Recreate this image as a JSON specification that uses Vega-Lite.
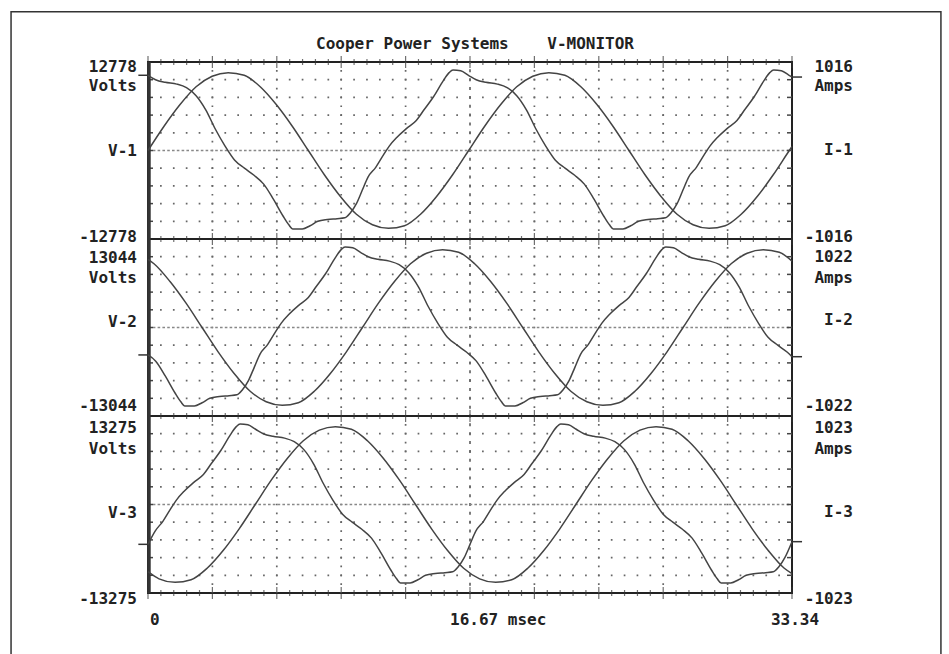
{
  "$schema": "https://vega.github.io/schema/vega-lite/v6.json",
  "width": 644,
  "height": 531,
  "autosize": {"type": "none"},
  "padding": {"left": 148, "top": 62, "right": 157, "bottom": 61},
  "background": "white",
  "config": {
    "view": {"stroke": "#222", "strokeWidth": 2},
    "text": {"font": "DejaVu Sans Mono", "fontSize": 16, "fontWeight": "bold", "fill": "#222"},
    "line": {"stroke": "#444", "strokeWidth": 1.5}
  },
  "resolve": {"scale": {"y": "independent"}},
  "datasets": {
    "minor": [{"t":0},{"t":0.6668},{"t":1.3336},{"t":2.0004},{"t":2.6672},{"t":3.334},{"t":4.0008},{"t":4.6676},{"t":5.3344},{"t":6.0012},{"t":6.668},{"t":7.3348},{"t":8.0016},{"t":8.6684},{"t":9.3352},{"t":10.002},{"t":10.6688},{"t":11.3356},{"t":12.0024},{"t":12.6692},{"t":13.336},{"t":14.0028},{"t":14.6696},{"t":15.3364},{"t":16.0032},{"t":16.67},{"t":17.3368},{"t":18.0036},{"t":18.6704},{"t":19.3372},{"t":20.004},{"t":20.6708},{"t":21.3376},{"t":22.0044},{"t":22.6712},{"t":23.338},{"t":24.0048},{"t":24.6716},{"t":25.3384},{"t":26.0052},{"t":26.672},{"t":27.3388},{"t":28.0056},{"t":28.6724},{"t":29.3392},{"t":30.006},{"t":30.6728},{"t":31.3396},{"t":32.0064},{"t":32.6732},{"t":33.34}],
    "cols": [{"t":0},{"t":3.334},{"t":6.668},{"t":10.002},{"t":13.336},{"t":16.67},{"t":20.004},{"t":23.338},{"t":26.672},{"t":30.006},{"t":33.34}],
    "rows": [{"d":1},{"d":2},{"d":3},{"d":4},{"d":5},{"d":6},{"d":7},{"d":8},{"d":9},{"d":11},{"d":12},{"d":13},{"d":14},{"d":15},{"d":16},{"d":17},{"d":18},{"d":19},{"d":21},{"d":22},{"d":23},{"d":24},{"d":25},{"d":26},{"d":27},{"d":28},{"d":29}],
    "edges": [{"d":10},{"d":20}],
    "leftLabels": [
      {"label":"12778","level":29.72},{"label":"Volts","level":28.64},{"label":"V-1\u00a0","level":24.97},{"label":"-12778","level":20.11},
      {"label":"13044","level":18.95},{"label":"Volts","level":17.8},{"label":"V-2\u00a0","level":15.31},{"label":"-13044","level":10.56},
      {"label":"13275","level":9.32},{"label":"Volts","level":8.14},{"label":"V-3\u00a0","level":4.52},{"label":"-13275","level":-0.34}
    ],
    "rightLabels": [
      {"label":"1016","level":29.72},{"label":"Amps","level":28.64},{"label":"I-1\u00a0","level":25.03},{"label":"-1016","level":20.11},
      {"label":"1022","level":18.98},{"label":"Amps","level":17.77},{"label":"I-2\u00a0","level":15.42},{"label":"-1022","level":10.56},
      {"label":"1023","level":9.32},{"label":"Amps","level":8.14},{"label":"I-3\u00a0","level":4.58},{"label":"-1023","level":-0.34}
    ],
    "v1": [{"t":0,"v":10861},{"t":0.39,"v":10222},{"t":0.89,"v":9839},{"t":1.49,"v":9584},{"t":1.99,"v":9072},{"t":2.49,"v":7922},{"t":2.99,"v":5878},{"t":3.49,"v":3067},{"t":3.99,"v":639},{"t":4.49,"v":-1406},{"t":4.99,"v":-2556},{"t":5.49,"v":-3578},{"t":5.99,"v":-4856},{"t":6.49,"v":-7028},{"t":6.99,"v":-9456},{"t":7.29,"v":-10734},{"t":7.49,"v":-11321},{"t":7.99,"v":-11321},{"t":8.39,"v":-10861},{"t":8.79,"v":-10222},{"t":9.29,"v":-9967},{"t":9.79,"v":-9839},{"t":10.19,"v":-9711},{"t":10.49,"v":-8945},{"t":10.79,"v":-7667},{"t":11.09,"v":-5750},{"t":11.39,"v":-3833},{"t":11.79,"v":-2428},{"t":12.19,"v":-639},{"t":12.49,"v":639},{"t":12.89,"v":1917},{"t":13.39,"v":3195},{"t":13.89,"v":4345},{"t":14.29,"v":5878},{"t":14.79,"v":7795},{"t":15.29,"v":10095},{"t":15.59,"v":11245},{"t":15.79,"v":11628},{"t":16.19,"v":11500},{"t":16.59,"v":10861},{"t":16.99,"v":10222},{"t":17.49,"v":9839},{"t":18.09,"v":9584},{"t":18.59,"v":9072},{"t":19.09,"v":7922},{"t":19.59,"v":5878},{"t":20.09,"v":3067},{"t":20.59,"v":639},{"t":21.09,"v":-1406},{"t":21.59,"v":-2556},{"t":22.09,"v":-3578},{"t":22.59,"v":-4856},{"t":23.09,"v":-7028},{"t":23.59,"v":-9456},{"t":23.89,"v":-10734},{"t":24.09,"v":-11321},{"t":24.59,"v":-11321},{"t":24.99,"v":-10861},{"t":25.39,"v":-10222},{"t":25.89,"v":-9967},{"t":26.39,"v":-9839},{"t":26.79,"v":-9711},{"t":27.09,"v":-8945},{"t":27.39,"v":-7667},{"t":27.69,"v":-5750},{"t":27.99,"v":-3833},{"t":28.39,"v":-2428},{"t":28.79,"v":-639},{"t":29.09,"v":639},{"t":29.49,"v":1917},{"t":29.99,"v":3195},{"t":30.49,"v":4345},{"t":30.89,"v":5878},{"t":31.39,"v":7795},{"t":31.89,"v":10095},{"t":32.19,"v":11245},{"t":32.39,"v":11628},{"t":32.79,"v":11500},{"t":33.19,"v":10861},{"t":33.34,"v":10606}],
    "i1": [{"t":0,"i":0},{"t":0.83,"i":279},{"t":1.66,"i":528},{"t":2.49,"i":732},{"t":3.32,"i":853},{"t":4.15,"i":894},{"t":4.98,"i":864},{"t":5.81,"i":732},{"t":6.64,"i":528},{"t":7.47,"i":279},{"t":8.3,"i":0},{"t":9.13,"i":-279},{"t":9.96,"i":-528},{"t":10.79,"i":-732},{"t":11.62,"i":-853},{"t":12.45,"i":-894},{"t":13.28,"i":-864},{"t":14.11,"i":-732},{"t":14.94,"i":-528},{"t":15.77,"i":-279},{"t":16.6,"i":0},{"t":17.43,"i":279},{"t":18.26,"i":528},{"t":19.09,"i":732},{"t":19.92,"i":853},{"t":20.75,"i":894},{"t":21.58,"i":864},{"t":22.41,"i":732},{"t":23.24,"i":528},{"t":24.07,"i":279},{"t":24.9,"i":0},{"t":25.73,"i":-279},{"t":26.56,"i":-528},{"t":27.39,"i":-732},{"t":28.22,"i":-853},{"t":29.05,"i":-894},{"t":29.88,"i":-864},{"t":30.71,"i":-732},{"t":31.54,"i":-528},{"t":32.37,"i":-279},{"t":33.2,"i":0},{"t":33.34,"i":46}],
    "v2": [{"t":0,"v":-4044},{"t":0.4,"v":-4957},{"t":0.9,"v":-7174},{"t":1.4,"v":-9653},{"t":1.7,"v":-10957},{"t":1.9,"v":-11557},{"t":2.4,"v":-11557},{"t":2.8,"v":-11087},{"t":3.2,"v":-10435},{"t":3.7,"v":-10174},{"t":4.2,"v":-10044},{"t":4.6,"v":-9913},{"t":4.9,"v":-9131},{"t":5.2,"v":-7826},{"t":5.5,"v":-5870},{"t":5.8,"v":-3913},{"t":6.2,"v":-2478},{"t":6.6,"v":-652},{"t":6.9,"v":652},{"t":7.3,"v":1957},{"t":7.8,"v":3261},{"t":8.3,"v":4435},{"t":8.7,"v":6000},{"t":9.2,"v":7957},{"t":9.7,"v":10305},{"t":10.0,"v":11479},{"t":10.2,"v":11870},{"t":10.6,"v":11740},{"t":11.0,"v":11087},{"t":11.4,"v":10435},{"t":11.9,"v":10044},{"t":12.5,"v":9783},{"t":13.0,"v":9261},{"t":13.5,"v":8087},{"t":14.0,"v":6000},{"t":14.5,"v":3131},{"t":15.0,"v":652},{"t":15.5,"v":-1435},{"t":16.0,"v":-2609},{"t":16.5,"v":-3652},{"t":17.0,"v":-4957},{"t":17.5,"v":-7174},{"t":18.0,"v":-9653},{"t":18.3,"v":-10957},{"t":18.5,"v":-11557},{"t":19.0,"v":-11557},{"t":19.4,"v":-11087},{"t":19.8,"v":-10435},{"t":20.3,"v":-10174},{"t":20.8,"v":-10044},{"t":21.2,"v":-9913},{"t":21.5,"v":-9131},{"t":21.8,"v":-7826},{"t":22.1,"v":-5870},{"t":22.4,"v":-3913},{"t":22.8,"v":-2478},{"t":23.2,"v":-652},{"t":23.5,"v":652},{"t":23.9,"v":1957},{"t":24.4,"v":3261},{"t":24.9,"v":4435},{"t":25.3,"v":6000},{"t":25.8,"v":7957},{"t":26.3,"v":10305},{"t":26.6,"v":11479},{"t":26.8,"v":11870},{"t":27.2,"v":11740},{"t":27.6,"v":11087},{"t":28.0,"v":10435},{"t":28.5,"v":10044},{"t":29.1,"v":9783},{"t":29.6,"v":9261},{"t":30.1,"v":8087},{"t":30.6,"v":6000},{"t":31.1,"v":3131},{"t":31.6,"v":652},{"t":32.1,"v":-1435},{"t":32.6,"v":-2609},{"t":33.1,"v":-3652},{"t":33.34,"v":-4305}],
    "i2": [{"t":0,"i":787},{"t":0.31,"i":736},{"t":1.14,"i":531},{"t":1.97,"i":281},{"t":2.8,"i":0},{"t":3.63,"i":-281},{"t":4.46,"i":-531},{"t":5.29,"i":-736},{"t":6.12,"i":-858},{"t":6.95,"i":-899},{"t":7.78,"i":-869},{"t":8.61,"i":-736},{"t":9.44,"i":-531},{"t":10.27,"i":-281},{"t":11.1,"i":0},{"t":11.93,"i":281},{"t":12.76,"i":531},{"t":13.59,"i":736},{"t":14.42,"i":858},{"t":15.25,"i":899},{"t":16.08,"i":869},{"t":16.91,"i":736},{"t":17.74,"i":531},{"t":18.57,"i":281},{"t":19.4,"i":0},{"t":20.23,"i":-281},{"t":21.06,"i":-531},{"t":21.89,"i":-736},{"t":22.72,"i":-858},{"t":23.55,"i":-899},{"t":24.38,"i":-869},{"t":25.21,"i":-736},{"t":26.04,"i":-531},{"t":26.87,"i":-281},{"t":27.7,"i":0},{"t":28.53,"i":281},{"t":29.36,"i":531},{"t":30.19,"i":736},{"t":31.02,"i":858},{"t":31.85,"i":899},{"t":32.68,"i":869},{"t":33.34,"i":767}],
    "v3": [{"t":0,"v":-5974},{"t":0.37,"v":-3983},{"t":0.77,"v":-2522},{"t":1.17,"v":-664},{"t":1.47,"v":664},{"t":1.87,"v":1991},{"t":2.37,"v":3319},{"t":2.87,"v":4514},{"t":3.27,"v":6107},{"t":3.77,"v":8098},{"t":4.27,"v":10487},{"t":4.57,"v":11682},{"t":4.77,"v":12080},{"t":5.17,"v":11948},{"t":5.57,"v":11284},{"t":5.97,"v":10620},{"t":6.47,"v":10222},{"t":7.07,"v":9956},{"t":7.57,"v":9425},{"t":8.07,"v":8231},{"t":8.57,"v":6107},{"t":9.07,"v":3186},{"t":9.57,"v":664},{"t":10.07,"v":-1460},{"t":10.57,"v":-2655},{"t":11.07,"v":-3717},{"t":11.57,"v":-5045},{"t":12.07,"v":-7301},{"t":12.57,"v":-9824},{"t":12.87,"v":-11151},{"t":13.07,"v":-11762},{"t":13.57,"v":-11762},{"t":13.97,"v":-11284},{"t":14.37,"v":-10620},{"t":14.87,"v":-10355},{"t":15.37,"v":-10222},{"t":15.77,"v":-10089},{"t":16.07,"v":-9293},{"t":16.37,"v":-7965},{"t":16.67,"v":-5974},{"t":16.97,"v":-3983},{"t":17.37,"v":-2522},{"t":17.77,"v":-664},{"t":18.07,"v":664},{"t":18.47,"v":1991},{"t":18.97,"v":3319},{"t":19.47,"v":4514},{"t":19.87,"v":6107},{"t":20.37,"v":8098},{"t":20.87,"v":10487},{"t":21.17,"v":11682},{"t":21.37,"v":12080},{"t":21.77,"v":11948},{"t":22.17,"v":11284},{"t":22.57,"v":10620},{"t":23.07,"v":10222},{"t":23.67,"v":9956},{"t":24.17,"v":9425},{"t":24.67,"v":8231},{"t":25.17,"v":6107},{"t":25.67,"v":3186},{"t":26.17,"v":664},{"t":26.67,"v":-1460},{"t":27.17,"v":-2655},{"t":27.67,"v":-3717},{"t":28.17,"v":-5045},{"t":28.67,"v":-7301},{"t":29.17,"v":-9824},{"t":29.47,"v":-11151},{"t":29.67,"v":-11762},{"t":30.17,"v":-11762},{"t":30.57,"v":-11284},{"t":30.97,"v":-10620},{"t":31.47,"v":-10355},{"t":31.97,"v":-10222},{"t":32.37,"v":-10089},{"t":32.67,"v":-9293},{"t":32.97,"v":-7965},{"t":33.34,"v":-5576}],
    "i3": [{"t":0,"i":-777},{"t":0.57,"i":-859},{"t":1.4,"i":-900},{"t":2.23,"i":-870},{"t":3.06,"i":-737},{"t":3.89,"i":-532},{"t":4.72,"i":-281},{"t":5.55,"i":0},{"t":6.38,"i":281},{"t":7.21,"i":532},{"t":8.04,"i":737},{"t":8.87,"i":859},{"t":9.7,"i":900},{"t":10.53,"i":870},{"t":11.36,"i":737},{"t":12.19,"i":532},{"t":13.02,"i":281},{"t":13.85,"i":0},{"t":14.68,"i":-281},{"t":15.51,"i":-532},{"t":16.34,"i":-737},{"t":17.17,"i":-859},{"t":18.0,"i":-900},{"t":18.83,"i":-870},{"t":19.66,"i":-737},{"t":20.49,"i":-532},{"t":21.32,"i":-281},{"t":22.15,"i":0},{"t":22.98,"i":281},{"t":23.81,"i":532},{"t":24.64,"i":737},{"t":25.47,"i":859},{"t":26.3,"i":900},{"t":27.13,"i":870},{"t":27.96,"i":737},{"t":28.79,"i":532},{"t":29.62,"i":281},{"t":30.45,"i":0},{"t":31.28,"i":-281},{"t":32.11,"i":-532},{"t":32.94,"i":-737},{"t":33.34,"i":-798}]
  },
  "layer": [
    {
      "data": {"values": [{}]},
      "mark": {"type": "rect", "fill": "transparent", "stroke": "#333", "strokeWidth": 1.5},
      "encoding": {
        "x": {"datum": -7.09, "type": "quantitative", "scale": {"domain": [0, 33.34], "nice": false, "zero": false}, "axis": null},
        "x2": {"datum": 41.05},
        "y": {"datum": 32.84, "type": "quantitative", "scale": {"domain": [0, 30], "nice": false, "zero": false}, "axis": null},
        "y2": {"datum": -5}
      }
    },
    {
      "data": {"values": [{"label": "Cooper Power Systems\u00a0\u00a0\u00a0\u00a0V-MONITOR"}]},
      "mark": {"type": "text", "align": "center", "baseline": "middle", "dx": 5},
      "encoding": {
        "x": {"datum": 16.67, "type": "quantitative", "scale": {"domain": [0, 33.34], "nice": false, "zero": false}, "axis": null},
        "y": {"datum": 31.02, "type": "quantitative", "scale": {"domain": [0, 30], "nice": false, "zero": false}, "axis": null},
        "text": {"field": "label"}
      }
    },
    {
      "data": {"name": "cols"},
      "transform": [{"filter": "datum.t > 0.1 && datum.t < 33.2 && abs(datum.t - 16.67) > 0.1"}],
      "mark": {"type": "rule", "stroke": "#666", "strokeWidth": 1.7, "strokeDash": [1.7, 7.15], "strokeDashOffset": 0.85},
      "encoding": {
        "x": {"field": "t", "type": "quantitative", "scale": {"domain": [0, 33.34], "nice": false, "zero": false}, "axis": null},
        "y": {"datum": 0, "type": "quantitative", "scale": {"domain": [0, 30], "nice": false, "zero": false}, "axis": null},
        "y2": {"datum": 30}
      }
    },
    {
      "data": {"name": "cols"},
      "transform": [{"filter": "abs(datum.t - 16.67) < 0.1"}],
      "mark": {"type": "rule", "stroke": "#666", "strokeWidth": 1.7, "strokeDash": [3, 5.85], "strokeDashOffset": 1.5},
      "encoding": {
        "x": {"field": "t", "type": "quantitative", "scale": {"domain": [0, 33.34], "nice": false, "zero": false}, "axis": null},
        "y": {"datum": 0, "type": "quantitative", "scale": {"domain": [0, 30], "nice": false, "zero": false}, "axis": null},
        "y2": {"datum": 30}
      }
    },
    {
      "data": {"name": "rows"},
      "transform": [{"filter": "datum.d % 5 != 0"}],
      "mark": {"type": "rule", "stroke": "#666", "strokeWidth": 1.7, "strokeDash": [1.7, 11.18], "strokeDashOffset": 0.85},
      "encoding": {
        "x": {"datum": 0, "type": "quantitative", "scale": {"domain": [0, 33.34], "nice": false, "zero": false}, "axis": null},
        "x2": {"datum": 33.34},
        "y": {"field": "d", "type": "quantitative", "scale": {"domain": [0, 30], "nice": false, "zero": false}, "axis": null}
      }
    },
    {
      "data": {"name": "rows"},
      "transform": [{"filter": "datum.d % 5 == 0"}],
      "mark": {"type": "rule", "stroke": "#888", "strokeWidth": 1.3, "strokeDash": [2.6, 2.2]},
      "encoding": {
        "x": {"datum": 0, "type": "quantitative", "scale": {"domain": [0, 33.34], "nice": false, "zero": false}, "axis": null},
        "x2": {"datum": 33.34},
        "y": {"field": "d", "type": "quantitative", "scale": {"domain": [0, 30], "nice": false, "zero": false}, "axis": null}
      }
    },
    {
      "data": {"name": "rows"},
      "mark": {"type": "rule", "stroke": "#444", "strokeWidth": 1.5},
      "encoding": {
        "x": {"datum": 0, "type": "quantitative", "scale": {"domain": [0, 33.34], "nice": false, "zero": false}, "axis": null},
        "x2": {"datum": 0.26},
        "y": {"field": "d", "type": "quantitative", "scale": {"domain": [0, 30], "nice": false, "zero": false}, "axis": null}
      }
    },
    {
      "data": {"name": "rows"},
      "mark": {"type": "rule", "stroke": "#444", "strokeWidth": 1.5},
      "encoding": {
        "x": {"datum": 33.08, "type": "quantitative", "scale": {"domain": [0, 33.34], "nice": false, "zero": false}, "axis": null},
        "x2": {"datum": 33.34},
        "y": {"field": "d", "type": "quantitative", "scale": {"domain": [0, 30], "nice": false, "zero": false}, "axis": null}
      }
    },
    {
      "data": {"name": "edges"},
      "mark": {"type": "rule", "stroke": "#222", "strokeWidth": 2},
      "encoding": {
        "x": {"datum": 0, "type": "quantitative", "scale": {"domain": [0, 33.34], "nice": false, "zero": false}, "axis": null},
        "x2": {"datum": 33.34},
        "y": {"field": "d", "type": "quantitative", "scale": {"domain": [0, 30], "nice": false, "zero": false}, "axis": null}
      }
    },
    {
      "data": {"values": [{}]},
      "mark": {"type": "rule", "stroke": "#333", "strokeWidth": 3.5},
      "encoding": {
        "x": {"datum": 0.05, "type": "quantitative", "scale": {"domain": [0, 33.34], "nice": false, "zero": false}, "axis": null},
        "y": {"datum": 0, "type": "quantitative", "scale": {"domain": [0, 30], "nice": false, "zero": false}, "axis": null},
        "y2": {"datum": 30}
      }
    },
    {
      "data": {"name": "minor"},
      "mark": {"type": "tick", "orient": "vertical", "color": "#333", "thickness": 1.2},
      "encoding": {
        "x": {"field": "t", "type": "quantitative", "scale": {"domain": [0, 33.34], "nice": false, "zero": false}, "axis": null},
        "y": {"datum": 0, "type": "quantitative", "scale": {"domain": [0, 30], "nice": false, "zero": false}, "axis": null},
        "size": {"condition": {"test": "abs(datum.t / 3.334 - round(datum.t / 3.334)) < 0.01", "value": 12}, "value": 6}
      }
    },
    {
      "data": {"name": "minor"},
      "mark": {"type": "tick", "orient": "vertical", "color": "#333", "thickness": 1.2},
      "encoding": {
        "x": {"field": "t", "type": "quantitative", "scale": {"domain": [0, 33.34], "nice": false, "zero": false}, "axis": null},
        "y": {"datum": 10, "type": "quantitative", "scale": {"domain": [0, 30], "nice": false, "zero": false}, "axis": null},
        "size": {"condition": {"test": "abs(datum.t / 3.334 - round(datum.t / 3.334)) < 0.01", "value": 12}, "value": 6}
      }
    },
    {
      "data": {"name": "minor"},
      "mark": {"type": "tick", "orient": "vertical", "color": "#333", "thickness": 1.2},
      "encoding": {
        "x": {"field": "t", "type": "quantitative", "scale": {"domain": [0, 33.34], "nice": false, "zero": false}, "axis": null},
        "y": {"datum": 20, "type": "quantitative", "scale": {"domain": [0, 30], "nice": false, "zero": false}, "axis": null},
        "size": {"condition": {"test": "abs(datum.t / 3.334 - round(datum.t / 3.334)) < 0.01", "value": 12}, "value": 6}
      }
    },
    {
      "data": {"name": "minor"},
      "mark": {"type": "tick", "orient": "vertical", "color": "#333", "thickness": 1.2},
      "encoding": {
        "x": {"field": "t", "type": "quantitative", "scale": {"domain": [0, 33.34], "nice": false, "zero": false}, "axis": null},
        "y": {"datum": 30, "type": "quantitative", "scale": {"domain": [0, 30], "nice": false, "zero": false}, "axis": null},
        "size": {"condition": {"test": "abs(datum.t / 3.334 - round(datum.t / 3.334)) < 0.01", "value": 12}, "value": 6}
      }
    },
    {
      "data": {"name": "v1"},
      "mark": {"type": "line", "interpolate": "monotone"},
      "encoding": {
        "x": {"field": "t", "type": "quantitative", "title": "msec", "scale": {"domain": [0, 33.34], "nice": false, "zero": false}, "axis": null},
        "y": {"field": "v", "type": "quantitative", "title": "V-1 (Volts)", "scale": {"domain": [-63890, 12778], "nice": false, "zero": false}, "axis": null}
      }
    },
    {
      "data": {"name": "i1"},
      "mark": {"type": "line", "interpolate": "monotone"},
      "encoding": {
        "x": {"field": "t", "type": "quantitative", "scale": {"domain": [0, 33.34], "nice": false, "zero": false}, "axis": null},
        "y": {"field": "i", "type": "quantitative", "title": "I-1 (Amps)", "scale": {"domain": [-5080, 1016], "nice": false, "zero": false}, "axis": null}
      }
    },
    {
      "data": {"name": "v2"},
      "mark": {"type": "line", "interpolate": "monotone"},
      "encoding": {
        "x": {"field": "t", "type": "quantitative", "scale": {"domain": [0, 33.34], "nice": false, "zero": false}, "axis": null},
        "y": {"field": "v", "type": "quantitative", "title": "V-2 (Volts)", "scale": {"domain": [-39132, 39132], "nice": false, "zero": false}, "axis": null}
      }
    },
    {
      "data": {"name": "i2"},
      "mark": {"type": "line", "interpolate": "monotone"},
      "encoding": {
        "x": {"field": "t", "type": "quantitative", "scale": {"domain": [0, 33.34], "nice": false, "zero": false}, "axis": null},
        "y": {"field": "i", "type": "quantitative", "title": "I-2 (Amps)", "scale": {"domain": [-3066, 3066], "nice": false, "zero": false}, "axis": null}
      }
    },
    {
      "data": {"name": "v3"},
      "mark": {"type": "line", "interpolate": "monotone"},
      "encoding": {
        "x": {"field": "t", "type": "quantitative", "scale": {"domain": [0, 33.34], "nice": false, "zero": false}, "axis": null},
        "y": {"field": "v", "type": "quantitative", "title": "V-3 (Volts)", "scale": {"domain": [-13275, 66375], "nice": false, "zero": false}, "axis": null}
      }
    },
    {
      "data": {"name": "i3"},
      "mark": {"type": "line", "interpolate": "monotone"},
      "encoding": {
        "x": {"field": "t", "type": "quantitative", "scale": {"domain": [0, 33.34], "nice": false, "zero": false}, "axis": null},
        "y": {"field": "i", "type": "quantitative", "title": "I-3 (Amps)", "scale": {"domain": [-1023, 5115], "nice": false, "zero": false}, "axis": null}
      }
    },
    {
      "data": {"name": "v1"},
      "transform": [{"filter": "datum.t == 0"}],
      "mark": {"type": "rule", "stroke": "#333", "strokeWidth": 1.5},
      "encoding": {
        "x": {"datum": -0.5, "type": "quantitative", "scale": {"domain": [0, 33.34], "nice": false, "zero": false}, "axis": null},
        "x2": {"datum": 0},
        "y": {"field": "v", "type": "quantitative", "scale": {"domain": [-63890, 12778], "nice": false, "zero": false}, "axis": null}
      }
    },
    {
      "data": {"name": "v1"},
      "transform": [{"filter": "datum.t == 33.34"}],
      "mark": {"type": "rule", "stroke": "#333", "strokeWidth": 1.5},
      "encoding": {
        "x": {"datum": 33.34, "type": "quantitative", "scale": {"domain": [0, 33.34], "nice": false, "zero": false}, "axis": null},
        "x2": {"datum": 33.86},
        "y": {"field": "v", "type": "quantitative", "scale": {"domain": [-63890, 12778], "nice": false, "zero": false}, "axis": null}
      }
    },
    {
      "data": {"name": "v2"},
      "transform": [{"filter": "datum.t == 0"}],
      "mark": {"type": "rule", "stroke": "#333", "strokeWidth": 1.5},
      "encoding": {
        "x": {"datum": -0.5, "type": "quantitative", "scale": {"domain": [0, 33.34], "nice": false, "zero": false}, "axis": null},
        "x2": {"datum": 0},
        "y": {"field": "v", "type": "quantitative", "scale": {"domain": [-39132, 39132], "nice": false, "zero": false}, "axis": null}
      }
    },
    {
      "data": {"name": "v2"},
      "transform": [{"filter": "datum.t == 33.34"}],
      "mark": {"type": "rule", "stroke": "#333", "strokeWidth": 1.5},
      "encoding": {
        "x": {"datum": 33.34, "type": "quantitative", "scale": {"domain": [0, 33.34], "nice": false, "zero": false}, "axis": null},
        "x2": {"datum": 33.86},
        "y": {"field": "v", "type": "quantitative", "scale": {"domain": [-39132, 39132], "nice": false, "zero": false}, "axis": null}
      }
    },
    {
      "data": {"name": "v3"},
      "transform": [{"filter": "datum.t == 0"}],
      "mark": {"type": "rule", "stroke": "#333", "strokeWidth": 1.5},
      "encoding": {
        "x": {"datum": -0.5, "type": "quantitative", "scale": {"domain": [0, 33.34], "nice": false, "zero": false}, "axis": null},
        "x2": {"datum": 0},
        "y": {"field": "v", "type": "quantitative", "scale": {"domain": [-13275, 66375], "nice": false, "zero": false}, "axis": null}
      }
    },
    {
      "data": {"name": "v3"},
      "transform": [{"filter": "datum.t == 33.34"}],
      "mark": {"type": "rule", "stroke": "#333", "strokeWidth": 1.5},
      "encoding": {
        "x": {"datum": 33.34, "type": "quantitative", "scale": {"domain": [0, 33.34], "nice": false, "zero": false}, "axis": null},
        "x2": {"datum": 33.86},
        "y": {"field": "v", "type": "quantitative", "scale": {"domain": [-13275, 66375], "nice": false, "zero": false}, "axis": null}
      }
    },
    {
      "data": {"name": "leftLabels"},
      "mark": {"type": "text", "align": "right", "baseline": "middle", "dx": -11},
      "encoding": {
        "x": {"datum": 0, "type": "quantitative", "scale": {"domain": [0, 33.34], "nice": false, "zero": false}, "axis": null},
        "y": {"field": "level", "type": "quantitative", "scale": {"domain": [0, 30], "nice": false, "zero": false}, "axis": null},
        "text": {"field": "label"}
      }
    },
    {
      "data": {"name": "rightLabels"},
      "mark": {"type": "text", "align": "right", "baseline": "middle", "dx": 61},
      "encoding": {
        "x": {"datum": 33.34, "type": "quantitative", "scale": {"domain": [0, 33.34], "nice": false, "zero": false}, "axis": null},
        "y": {"field": "level", "type": "quantitative", "scale": {"domain": [0, 30], "nice": false, "zero": false}, "axis": null},
        "text": {"field": "label"}
      }
    },
    {
      "data": {"values": [{"label": "0"}]},
      "mark": {"type": "text", "align": "left", "baseline": "middle", "dx": 2},
      "encoding": {
        "x": {"datum": 0, "type": "quantitative", "scale": {"domain": [0, 33.34], "nice": false, "zero": false}, "axis": null},
        "y": {"datum": -1.53, "type": "quantitative", "scale": {"domain": [0, 30], "nice": false, "zero": false}, "axis": null},
        "text": {"field": "label"}
      }
    },
    {
      "data": {"values": [{"label": "16.67 msec"}]},
      "mark": {"type": "text", "align": "left", "baseline": "middle", "dx": -20},
      "encoding": {
        "x": {"datum": 16.67, "type": "quantitative", "scale": {"domain": [0, 33.34], "nice": false, "zero": false}, "axis": null},
        "y": {"datum": -1.53, "type": "quantitative", "scale": {"domain": [0, 30], "nice": false, "zero": false}, "axis": null},
        "text": {"field": "label"}
      }
    },
    {
      "data": {"values": [{"label": "33.34"}]},
      "mark": {"type": "text", "align": "center", "baseline": "middle", "dx": 3},
      "encoding": {
        "x": {"datum": 33.34, "type": "quantitative", "scale": {"domain": [0, 33.34], "nice": false, "zero": false}, "axis": null},
        "y": {"datum": -1.53, "type": "quantitative", "scale": {"domain": [0, 30], "nice": false, "zero": false}, "axis": null},
        "text": {"field": "label"}
      }
    }
  ]
}
